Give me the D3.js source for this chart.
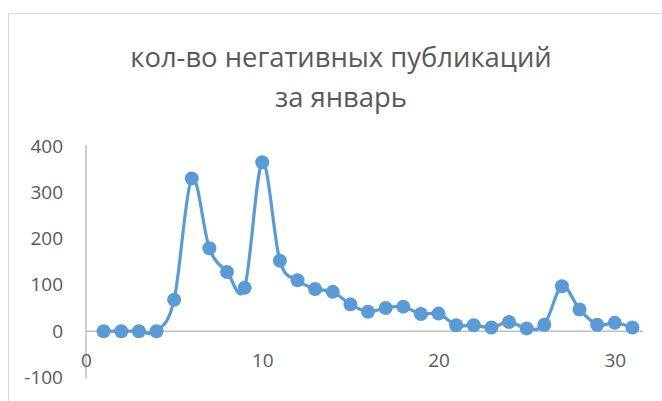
<!DOCTYPE html>
<html><head><meta charset="utf-8">
<script src="https://cdn.jsdelivr.net/npm/d3@7/dist/d3.min.js"></script>
<style>body{margin:0;background:#fff}svg{display:block}</style>
</head><body>
<svg id="c" width="662" height="401"></svg>
<script>
const days = d3.range(1, 32);
const values = [0,0,0,0,68,330,179,128,94,365,152,110,91,85,58,42,50,53,37,38,13,13,8,20,6,14,97,47,14,18,8];
const yTicks = [-100,0,100,200,300,400];
const xTicks = [0,10,20,30];
const titleLines = ["кол-во негативных публикаций", "за январь"];

const svg = d3.select("#c");
const font = "'Open Sans', 'Noto Sans', sans-serif";
const col = "#5B9BD5";

// chart border
svg.append("path").attr("d","M8.5,401 V13.5 H662").attr("fill","none").attr("stroke","#d9d9d9").attr("stroke-width",1);

// title
svg.append("g").selectAll("text").data(titleLines).join("text")
  .attr("x", 341).attr("y",(d,i)=>57+i*40).attr("dy","0.35em")
  .attr("text-anchor","middle").attr("font-family",font).attr("font-size",27.4)
  .attr("fill","#595959").text(d=>d);

const x = d3.scaleLinear().domain([0,31.6]).range([86,643]);
const y = d3.scaleLinear().domain([-100,400]).range([377.5,146]);

// y axis
const ya = svg.append("g").attr("transform",`translate(${x(0)},0)`)
  .call(d3.axisLeft(y).tickValues(yTicks).tickSize(0).tickPadding(23).tickFormat(d=>String(d)));
ya.select(".domain").attr("stroke","#bfbfbf").attr("stroke-width",1.5).attr("d",`M0,${y(400)-1}V${y(-100)+1}`);
ya.selectAll("text").attr("font-family",font).attr("font-size",19).attr("fill","#595959");

// x axis at y=0
const xa = svg.append("g").attr("transform",`translate(0,${y(0)})`)
  .call(d3.axisBottom(x).tickValues(xTicks).tickSize(0).tickPadding(22).tickFormat(d=>String(d)));
xa.select(".domain").attr("stroke","#bfbfbf").attr("stroke-width",1.5).attr("d",`M${x(0)},0H${x(31.6)}`);
xa.selectAll("text").attr("font-family",font).attr("font-size",19).attr("fill","#595959");

const data = days.map((d,i)=>({d, v: values[i]}));
const line = d3.line().x(p=>x(p.d)).y(p=>y(p.v)).curve(d3.curveCatmullRom.alpha(0));
svg.append("path").datum(data).attr("d",line).attr("fill","none").attr("stroke",col).attr("stroke-width",3.2).attr("stroke-linejoin","round");
svg.append("g").selectAll("circle").data(data).join("circle")
  .attr("cx",p=>x(p.d)).attr("cy",p=>y(p.v)).attr("r",7).attr("fill",col);
</script>
</body></html>
